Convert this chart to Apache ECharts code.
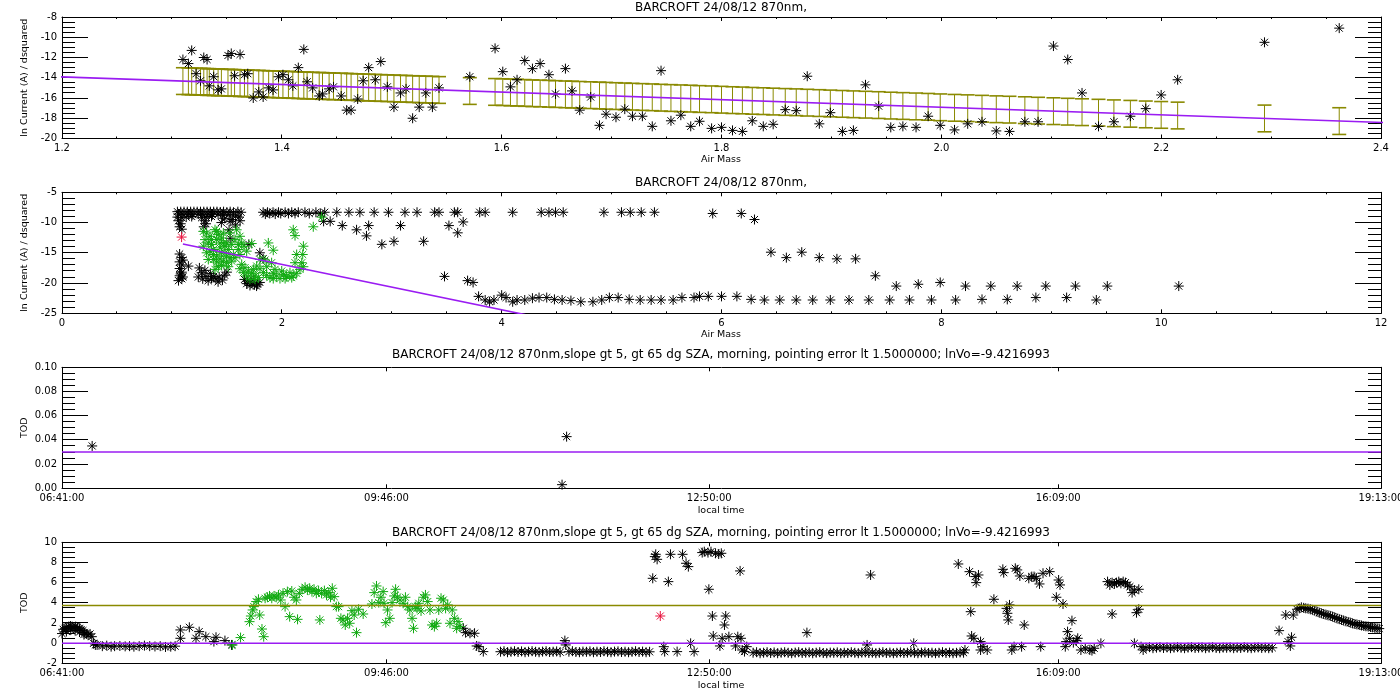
<!DOCTYPE html>
<html><head><meta charset="utf-8">
<script src="https://cdn.jsdelivr.net/npm/echarts@6/dist/echarts.min.js"></script>
<style>html,body{margin:0;padding:0;background:#fff}#c{width:1400px;height:700px}</style>
</head><body><div id="c"></div>
<script>
// ---------------- DATA ----------------
const title12 = 'BARCROFT 24/08/12 870nm,';
const title34 = 'BARCROFT 24/08/12 870nm,slope gt 5, gt 65 dg SZA, morning, pointing error lt 1.5000000; lnVo=-9.4216993';
const timeTicks = [401, 586, 770, 969, 1153];   // minutes of day: 06:41, 09:46, 12:50, 16:09, 19:13

// Panel 1: air mass vs ln current
const p1X = [1.310,1.315,1.318,1.322,1.326,1.329,1.332,1.334,1.338,1.342,1.345,1.351,1.354,1.357,1.362,1.366,1.369,1.374,1.379,1.383,1.388,1.392,1.397,1.401,1.406,1.410,1.415,1.420,1.423,1.428,1.434,1.437,1.443,1.447,1.454,1.459,1.463,1.469,1.474,1.479,1.485,1.490,1.496,1.502,1.508,1.513,1.519,1.525,1.531,1.537,1.543,
 1.571,
 1.594,1.601,1.608,1.614,1.621,1.628,1.635,1.643,1.649,1.658,1.664,1.671,1.681,1.689,1.695,1.704,1.712,1.719,1.728,1.737,1.745,1.754,1.763,1.772,1.780,
 1.791,1.800,1.810,1.819,1.828,1.838,1.847,1.858,1.868,1.878,1.889,1.899,1.910,1.920,1.931,1.943,1.954,1.965,1.977,1.988,1.999,2.012,2.024,2.037,2.050,2.062,2.076,2.088,2.102,2.115,2.128,2.143,2.157,2.172,2.186,2.200,2.215,
 2.294,2.362];
const p1Y = [-12.2,-12.6,-11.3,-13.6,-14.3,-12.0,-12.2,-14.8,-13.9,-15.2,-15.1,-11.8,-11.6,-13.8,-11.7,-13.7,-13.6,-16.0,-15.4,-15.9,-15.0,-15.2,-13.9,-13.7,-14.2,-14.8,-13.0,-11.2,-14.4,-15.0,-15.8,-15.6,-15.1,-14.9,-15.8,-17.2,-17.2,-16.1,-14.3,-13.0,-14.2,-12.4,-14.9,-16.9,-15.5,-15.1,-18.0,-16.9,-15.5,-16.9,-15.0,
 -13.9,
 -11.1,-13.4,-14.9,-14.2,-12.3,-13.1,-12.6,-13.7,-15.6,-13.1,-15.3,-17.2,-15.9,-18.7,-17.6,-17.9,-17.1,-17.8,-17.8,-18.8,-13.3,-18.25,-17.7,-18.8,-18.3,
 -19.0,-18.9,-19.2,-19.3,-18.25,-18.8,-18.6,-17.15,-17.25,-13.85,-18.55,-17.45,-19.3,-19.2,-14.7,-16.8,-18.9,-18.8,-18.9,-17.8,-18.7,-19.15,-18.55,-18.35,-19.25,-19.3,-18.35,-18.35,-10.87,-12.2,-15.5,-18.8,-18.35,-17.8,-17.05,-15.7,-14.2,
 -10.5,-9.1];
const p1ErrLow = [-15.65,-15.67,-15.68,-15.70,-15.71,-15.72,-15.74,-15.74,-15.76,-15.77,-15.78,-15.81,-15.82,-15.83,-15.85,-15.86,-15.87,-15.89,-15.91,-15.93,-15.95,-15.96,-15.98,-15.99,-16.01,-16.03,-16.05,-16.07,-16.08,-16.10,-16.12,-16.13,-16.15,-16.17,-16.19,-16.21,-16.23,-16.25,-16.27,-16.29,-16.31,-16.33,-16.35,-16.37,-16.40,-16.41,-16.44,-16.46,-16.48,-16.50,-16.53,
 -16.63,
 -16.72,-16.74,-16.77,-16.79,-16.82,-16.85,-16.87,-16.90,-16.93,-16.96,-16.98,-17.01,-17.04,-17.07,-17.10,-17.13,-17.16,-17.19,-17.22,-17.25,-17.29,-17.32,-17.35,-17.38,-17.42,
 -17.45,-17.49,-17.53,-17.56,-17.60,-17.63,-17.67,-17.71,-17.74,-17.78,-17.82,-17.86,-17.90,-17.94,-17.98,-18.02,-18.07,-18.11,-18.15,-18.19,-18.24,-18.29,-18.33,-18.38,-18.43,-18.47,-18.52,-18.57,-18.62,-18.67,-18.72,-18.77,-18.83,-18.88,-18.94,-18.99,-19.05,
 -19.34,-19.60];
const p1ErrHigh = [-13.01,-13.03,-13.04,-13.06,-13.07,-13.08,-13.10,-13.10,-13.12,-13.13,-13.14,-13.17,-13.18,-13.19,-13.21,-13.22,-13.23,-13.25,-13.27,-13.29,-13.31,-13.32,-13.34,-13.35,-13.37,-13.39,-13.41,-13.43,-13.44,-13.46,-13.48,-13.49,-13.51,-13.53,-13.55,-13.57,-13.59,-13.61,-13.63,-13.65,-13.67,-13.69,-13.71,-13.73,-13.76,-13.77,-13.80,-13.82,-13.84,-13.86,-13.89,
 -13.99,
 -14.08,-14.10,-14.13,-14.15,-14.18,-14.21,-14.23,-14.26,-14.29,-14.32,-14.34,-14.37,-14.40,-14.43,-14.46,-14.49,-14.52,-14.55,-14.58,-14.61,-14.65,-14.68,-14.71,-14.74,-14.78,
 -14.81,-14.85,-14.89,-14.92,-14.96,-14.99,-15.03,-15.07,-15.10,-15.14,-15.18,-15.22,-15.26,-15.30,-15.34,-15.38,-15.43,-15.47,-15.51,-15.55,-15.60,-15.65,-15.69,-15.74,-15.79,-15.83,-15.88,-15.93,-15.98,-16.03,-16.08,-16.13,-16.19,-16.24,-16.30,-16.35,-16.41,
 -16.70,-16.96];
const fitLine = [[1.1,-13.545],[4.3,-25.545]];

// Panel 2: air mass vs ln current, all data
const p2Black = [
 [1.05,-8.2],[1.08,-8.2],[1.11,-8.2],[1.14,-8.2],[1.17,-8.2],[1.20,-8.2],[1.23,-8.2],[1.26,-8.2],[1.29,-8.2],[1.32,-8.2],[1.35,-8.2],[1.38,-8.2],[1.41,-8.2],[1.44,-8.25],[1.47,-8.2],[1.50,-8.3],[1.53,-8.2],[1.56,-8.3],[1.60,-8.2],[1.63,-8.3],
 [1.06,-8.6],[1.10,-8.7],[1.15,-8.6],[1.19,-8.7],[1.24,-8.6],[1.28,-8.7],[1.33,-8.6],[1.37,-8.7],[1.42,-8.6],[1.46,-8.8],[1.52,-8.7],[1.58,-8.9],
 [1.05,-9.1],[1.09,-9.2],[1.13,-9.1],[1.18,-9.0],[1.27,-9.2],[1.31,-9.1],[1.36,-9.0],[1.48,-9.3],[1.55,-9.5],[1.61,-9.1],
 [1.06,-9.7],[1.08,-10.2],[1.07,-10.7],[1.09,-11.1],[1.30,-9.7],[1.31,-10.2],[1.29,-10.7],[1.53,-9.8],[1.58,-10.4],[1.52,-11.2],[1.53,-12.6],[1.45,-10.0],[1.62,-9.7],
 [1.07,-15.2],[1.09,-15.8],[1.10,-16.2],[1.07,-16.5],[1.09,-17.0],[1.07,-17.6],[1.09,-18.2],[1.08,-18.5],[1.07,-18.8],[1.10,-19.0],[1.09,-19.3],[1.06,-19.6],[1.15,-17.2],
 [1.25,-17.5],[1.30,-17.9],[1.27,-18.3],[1.35,-18.4],[1.24,-19.0],[1.31,-18.9],[1.28,-19.3],[1.33,-19.6],[1.36,-19.2],[1.38,-18.9],[1.40,-19.3],[1.42,-19.8],[1.43,-19.0],[1.46,-19.5],[1.48,-18.7],[1.50,-18.2],
 [1.66,-19.4],[1.68,-20.1],[1.69,-19.7],[1.71,-20.4],[1.72,-20.0],[1.74,-19.5],[1.75,-20.3],[1.77,-20.5],[1.78,-20.2],[1.80,-19.9],
 [1.70,-13.6],[1.80,-15.0],[1.83,-16.0],
 [1.83,-8.3],[1.85,-8.6],[1.87,-8.3],[1.89,-8.5],[1.92,-8.3],[1.94,-8.6],[1.97,-8.3],[1.99,-8.5],[2.03,-8.3],[2.06,-8.5],[2.09,-8.3],[2.12,-8.5],[2.15,-8.3],[2.21,-8.3],[2.25,-8.5],[2.31,-8.3],[2.35,-8.5],[2.39,-8.3],[2.50,-8.3],[2.61,-8.3],[2.71,-8.3],[2.84,-8.3],[2.97,-8.3],[3.12,-8.3],[3.23,-8.3],[3.39,-8.3],[3.43,-8.3],[3.57,-8.3],[3.60,-8.3],[3.80,-8.3],[3.85,-8.3],[4.10,-8.3],[4.36,-8.3],[4.43,-8.3],[4.49,-8.3],[4.56,-8.3],[4.93,-8.3],[5.09,-8.3],[5.17,-8.3],[5.27,-8.3],[5.39,-8.3],[5.92,-8.5],[6.18,-8.5],[6.30,-9.5],
 [2.38,-9.8],[2.44,-9.8],[2.55,-10.5],[2.68,-11.2],[2.77,-12.2],[2.79,-10.5],[2.91,-13.6],[3.02,-13.1],[3.08,-10.5],[3.29,-13.1],[3.48,-18.9],[3.52,-10.5],[3.60,-11.7],[3.65,-9.9],[3.69,-19.6],[3.74,-19.9],
 [3.79,-22.2],[3.85,-22.8],[3.89,-23.1],[3.93,-22.8],[4.00,-22.0],[4.04,-22.4],[4.10,-23.1],[4.14,-22.8],[4.21,-22.8],[4.28,-22.5],[4.34,-22.4],[4.41,-22.4],[4.48,-22.7],[4.55,-22.8],[4.63,-22.9],[4.72,-23.1],[4.83,-23.1],[4.91,-22.8],[4.98,-22.4],[5.06,-22.4],[5.16,-22.7],[5.26,-22.8],[5.36,-22.8],[5.45,-22.8],[5.56,-22.8],[5.64,-22.4],[5.75,-22.4],[5.80,-22.2],[5.88,-22.2],[6.00,-22.2],[6.14,-22.2],[6.27,-22.7],[6.39,-22.8],[6.53,-22.8],[6.68,-22.8],[6.83,-22.8],[6.99,-22.8],[7.16,-22.8],[7.34,-22.8],[7.53,-22.8],[7.71,-22.8],[7.91,-22.8],[8.13,-22.8],[8.37,-22.7],[8.60,-22.7],[8.86,-22.4],[9.14,-22.4],[9.41,-22.8],
 [6.45,-14.9],[6.59,-15.8],[6.73,-14.9],[6.89,-15.8],[7.05,-16.0],[7.22,-16.0],[7.40,-18.8],[7.59,-20.5],[7.79,-20.2],[7.99,-19.9],[8.22,-20.5],[8.45,-20.5],[8.69,-20.5],[8.95,-20.5],[9.22,-20.5],[9.51,-20.5],[10.16,-20.5]
];
const p2Green = [
 [1.286,-11.46],[1.316,-11.73],[1.346,-12.27],[1.301,-12.82],[1.331,-13.37],[1.361,-13.64],[1.392,-11.18],[1.422,-12.0],[1.407,-12.82],[1.452,-12.55],[1.468,-13.37],[1.483,-13.91],[1.437,-14.19],[1.377,-14.46],[1.346,-14.73],[1.316,-15.0],[1.377,-15.28],[1.407,-15.55],[1.437,-15.99],[1.468,-16.37],[1.498,-16.64],[1.513,-17.3],[1.452,-17.08],[1.407,-16.53],[1.483,-15.0],[1.513,-14.46],[1.544,-13.64],[1.574,-12.82],[1.589,-11.2],[1.619,-12.27],[1.635,-13.37],[1.656,-13.91],[1.604,-14.46],[1.559,-15.28],[1.528,-15.82],[1.498,-15.55],[1.544,-16.37],[1.574,-15.82],[1.619,-15.28],[1.68,-14.73],[1.726,-13.47],[1.392,-17.74],[1.422,-17.3],[1.286,-13.91],[1.331,-16.1],
 [1.361,-12.82],[1.437,-13.37],[1.498,-13.37],[1.528,-11.73],[1.468,-11.73],[1.407,-11.46],[1.377,-16.1],[1.452,-15.0],[1.604,-13.64],
 [1.635,-16.91],[1.665,-17.46],[1.695,-18.01],[1.726,-18.39],[1.756,-18.83],[1.786,-19.1],[1.68,-18.83],[1.71,-19.38],[1.741,-17.74],[1.771,-17.19],[1.801,-17.63],[1.832,-18.28],[1.862,-18.72],[1.892,-19.1],[1.922,-18.39],[1.953,-18.83],[1.983,-19.26],[2.014,-18.56],[2.044,-18.94],[2.074,-18.28],[2.104,-18.83],[2.135,-18.39],[2.165,-17.74],[2.196,-17.3],[2.12,-16.64],[1.862,-17.3],[1.847,-16.2],[1.877,-13.37],[1.922,-14.57],[2.104,-11.2],[2.12,-12.16],[2.135,-15.28],[2.19,-15.28],[2.196,-13.91],[2.286,-10.7],[2.362,-9.1],[2.181,-16.64],[1.801,-16.1],[1.907,-16.64],[1.938,-17.74],[1.999,-18.01],
 [1.65,-18.28],[1.619,-17.63],[1.756,-19.38],[1.922,-19.26],[2.03,-19.26],[2.09,-19.1]
];
const p2Red = [[1.088,-12.4]];

// Panel 3: local time (minutes) vs TOD
const p3Black = [[418.2,0.035],[688.7,0.0427],[686.1,0.003]];
const p3Ref = 0.03;

// Panel 4: local time (minutes) vs TOD
const p4Black = [
 [400.7,1.24],[401.7,1.37],[402.7,1.47],[403.7,1.57],[404.8,1.64],[405.8,1.70],[406.8,1.64],[407.8,1.57],[408.8,1.64],[409.8,1.57],[410.9,1.47],[411.9,1.31],[412.9,1.24],[413.9,1.04],[414.9,0.91],[415.9,0.81],[417,0.91],[418,0.64],[401,0.95],[403.5,1.15],[406,1.30],[408.5,1.25],[411,1.10],[413.5,0.85],[419,-0.02],[420,-0.18],[421,-0.18],
 [424,-0.3],[426.5,-0.25],[429,-0.35],[431,-0.3],[434,-0.28],[437,-0.32],[439.5,-0.3],[442,-0.35],[445,-0.3],[448,-0.25],[451,-0.3],[454,-0.33],[457,-0.3],[460,-0.38],[463,-0.35],[465.5,-0.3],
 [468.5,0.48],[468.5,1.31],[473.6,1.57],[477.4,0.48],[479.2,1.14],[483,0.64],[487.6,0.15],[488.8,0.58],[493.9,0.25],[497.7,-0.18],
 [629.8,1.47],[631.1,1.04],[633.6,0.98],[636.2,0.98],[637.4,-0.28],[638.7,-0.35],[641.2,-0.84],
 [651,-0.85],[653,-0.8],[655,-0.9],[657,-0.85],[659,-0.8],[661,-0.88],[663,-0.82],[665,-0.9],[667,-0.85],[669,-0.8],[671,-0.86],[673,-0.9],[675,-0.84],[677,-0.8],[679,-0.88],[681,-0.85],[683,-0.82],[685,-0.9],[690,-0.85],[692,-0.8],[694,-0.88],[696,-0.9],[698,-0.84],[700,-0.86],[702,-0.82],[704,-0.9],[706,-0.85],[708,-0.88],[710,-0.8],[712,-0.86],[714,-0.9],[716,-0.84],[718,-0.82],[720,-0.88],[722,-0.85],[724,-0.9],[726,-0.86],[728,-0.8],[730,-0.88],[732,-0.84],[734,-0.9],[736,-0.86],
 [687.7,0.25],[688.2,-0.18],[737.8,6.43],[739,8.58],[739.5,8.81],[740.3,8.31],[744.1,-0.35],[744.6,-0.84],[746.7,6.10],[747.9,8.81],[751.7,-0.84],[754.8,8.81],[756.8,7.92],[758.1,7.59],[759.4,-0.02],[761.4,-0.84],
 [766,8.98],[767.2,9.07],[769.3,8.98],[771,9.07],[773.6,8.91],[775.4,8.84],[776.9,8.91],[769.8,5.34],[771.8,2.69],[772.3,0.71],[776.1,-0.28],[777.4,0.48],[778.7,1.80],[779.4,2.69],[781.2,0.64],[785,-0.28],[786.3,0.64],[787.6,7.16],[788.1,0.48],[788.8,-0.68],[790.1,-0.84],[791.4,-0.35],
 [795,-0.95],[797,-0.9],[799,-1.0],[801,-0.95],[803,-0.9],[805,-0.98],[807,-0.92],[809,-1.0],[811,-0.95],[813,-0.9],[815,-0.96],[817,-1.0],[819,-0.94],[821,-0.9],[823,-0.98],[825,-0.95],[827,-0.92],[829,-1.0],[831,-0.95],[833,-0.9],[835,-0.98],[837,-1.0],[839,-0.94],[841,-0.96],[843,-0.92],[845,-1.0],[847,-0.95],[849,-0.98],[851,-0.9],[853,-0.96],[855,-1.0],[857,-0.94],[859,-0.92],[861,-0.98],[863,-0.95],[865,-1.0],[867,-0.96],[869,-0.9],[871,-0.98],[873,-0.94],[875,-1.0],[877,-0.96],[879,-0.92],[881,-0.98],[883,-0.95],[885,-0.9],[887,-0.96],[889,-1.0],[891,-0.94],[893,-0.92],[895,-0.98],[897,-0.95],[899,-1.0],[901,-0.96],[903,-0.9],[905,-0.98],[907,-0.94],[909,-1.0],[911,-0.96],[913,-0.92],[915,-0.95],
 [825.7,1.04],[860,-0.18],[862,6.76],[886.6,-0.02],[915.8,-0.68],[912,7.85],[918.4,7.09],[921.7,6.60],[922.2,6.0],[923.5,6.76],[919.1,3.12],[919.6,0.71],[920.9,0.48],[924.7,0.15],[924.7,-0.68],[926,-0.35],[928.5,-0.68],[932.3,4.35],[937.4,7.32],[937.9,6.99],[939.5,3.45],[940,2.96],[940.5,2.30],[941.2,3.79],[942.5,-0.68],[943.8,-0.35],[944.5,7.42],[945.6,7.26],[947.1,6.66],[948.1,-0.35],[949.6,1.80],[952.2,6.43],[953.9,6.60],[955.2,6.60],[956.5,6.43],[958.3,5.87],[959,-0.35],[960.3,6.93],[964.1,7.09],[967.9,4.55],[969.2,6.26],[970,5.77],[971.7,3.88],[973,-0.35],[973.5,0.15],[974.3,1.14],[975.5,0.48],[976.8,2.23],[977.6,0.05],[979.3,0.25],[980.1,0.48],[981.9,-0.68],[984.4,-0.51],[987,-0.68],[988.2,-0.74],[989.5,-0.51],[993.3,-0.02],
 [997.1,6.10],[998.4,5.77],[999.7,6.0],[1001,5.87],[1002.2,6.0],[1003.5,6.10],[1004.7,5.93],[1006,6.10],[1007.3,6.0],[1008.5,5.77],[1009.8,5.60],[1011.1,5.01],[1012.4,5.27],[1014.9,5.34],[999.7,2.89],[1012.4,-0.02],[1013.6,3.02],[1014.9,3.36],[1016.2,-0.35],[1017.4,-0.68],
 [1019,-0.45],[1021,-0.4],[1023,-0.5],[1025,-0.45],[1027,-0.4],[1029,-0.48],[1031,-0.42],[1033,-0.5],[1035,-0.45],[1037,-0.4],[1039,-0.46],[1041,-0.5],[1043,-0.44],[1045,-0.4],[1047,-0.48],[1049,-0.45],[1051,-0.42],[1053,-0.5],[1055,-0.45],[1057,-0.4],[1059,-0.48],[1061,-0.5],[1063,-0.44],[1065,-0.46],[1067,-0.42],[1069,-0.5],[1071,-0.45],[1073,-0.48],[1075,-0.4],[1077,-0.46],[1079,-0.5],[1081,-0.44],[1083,-0.42],[1085,-0.48],[1087,-0.45],[1089,-0.5],[1091,-0.46],
 [1094.9,1.24],[1098.7,2.79],[1100,0.15],[1101.3,-0.28],[1102,0.58],[1103,2.79],
 [1105.1,3.36],[1106.4,3.45],[1107.6,3.55],[1108.9,3.5],[1110.1,3.45],[1111.4,3.42],[1112.7,3.36],[1114,3.3],[1115.2,3.22],[1116.5,3.12],[1117.8,3.02],[1119,2.96],[1120.3,2.89],[1121.6,2.82],[1122.8,2.76],[1124.1,2.7],[1125.4,2.63],[1126.6,2.55],[1127.9,2.46],[1129.2,2.38],[1130.5,2.30],[1131.7,2.24],[1133,2.17],[1134.3,2.1],[1135.5,2.03],[1136.8,1.96],[1138.1,1.90],[1139.3,1.85],[1140.6,1.80],[1141.9,1.75],[1143.2,1.70],[1144.4,1.67],[1145.7,1.64],[1147,1.6],[1148.2,1.57],[1149.5,1.52],[1150.8,1.47],[1152,1.44]
];
const p4Green = [
 [498.2,-0.18],[502.8,0.55],[507.9,2.13],[508.7,2.69],[509.7,3.29],[510.4,3.62],[511.7,4.12],[513,4.35],[513.7,2.79],[515,1.40],[516,0.64],[516.8,4.45],[518.1,4.55],[519.3,4.68],[520.6,4.45],[521.9,4.68],[523.1,4.55],[524.4,4.78],[525.7,4.28],[527,4.94],[528.2,3.62],[529.5,5.11],[530.8,2.63],[532,5.17],[533.3,4.55],[534.6,4.28],[535.3,2.36],[536.3,4.94],[537.9,5.34],[539.6,5.54],[540.9,5.27],[542.2,5.44],[543.5,5.11],[544.7,5.34],[546,4.94],[547.3,5.21],[548.0,2.30],[549,4.94],[550.6,5.21],[551.8,4.78],[553.1,5.01],[554.1,4.55],[555.1,5.44],[556.2,4.61],[557.4,3.62],[558.7,3.62],[560,2.46],[561.2,2.30],[562.5,1.80],[563.8,2.46],[565,1.97],[566.3,3.22],[567.6,2.79],[568.9,1.04],[570.1,3.36],[572.7,2.89],
 [577.7,3.88],[579,5.01],[580.3,5.67],[581.6,4.02],[582.8,4.55],[584.1,5.11],[584.6,3.95],[585.6,2.03],[586.6,3.29],[587.9,2.46],[589.2,4.02],[590.4,4.68],[591.2,5.34],[592.2,4.55],[593.7,4.28],[595.5,3.95],[596.8,4.55],[598.1,3.62],[599.3,3.29],[600.6,2.46],[601.4,1.47],[602.4,3.62],[603.4,3.45],[604.4,3.95],[605.7,3.19],[607,4.55],[608.2,4.78],[609.5,4.12],[610.8,3.29],[612,1.80],[613.3,1.64],[614.6,1.97],[615.8,3.29],[617.1,4.45],[618.4,4.28],[619.7,3.45],[620.9,3.79],[622.2,1.97],[623.5,3.29],[624.7,2.46],[626,1.47],[626.8,2.13],[627.8,1.64]
];
const p4Red = [[742.1,2.69]];
const p4Olive = 3.72;
const p4Zero = 0;

// ---------------- STYLE / LAYOUT ----------------
const PURPLE = '#9a1cf2', OLIVE = '#8a8a00', GREEN = '#11aa11', RED = '#e8103c';
const FONT = '"DejaVu Sans", sans-serif';
const AST = 'path://M0,-10L0,10M-10,0L10,0M-7.07,-7.07L7.07,7.07M-7.07,7.07L7.07,-7.07';
const grids = [
  {left:62, top:17, width:1319, height:121.5},
  {left:62, top:192.3, width:1319, height:121},
  {left:62, top:367.3, width:1319, height:121},
  {left:62, top:542.3, width:1319, height:121}
].map(g => Object.assign(g, {containLabel:false, outerBoundsMode:'none'}));

const pad = n => (n < 10 ? '0' : '') + n;
const fmtTime = v => { const m = Math.round(v); return timeTicks.indexOf(m) >= 0 ? pad(Math.floor(m/60)) + ':' + pad(m % 60) + ':00' : ''; };

function mkX(g, pos, c) {
  return {type:'value', gridIndex:g, position:pos, min:c.min, max:c.max, interval:c.interval,
    axisLine:{show:true, onZero:false, lineStyle:{color:'#000', width:1}},
    axisTick:{show:false}, minorTick:{show:false},
    axisLabel:{show:pos==='bottom', margin:5, color:'#000', fontFamily:FONT, fontSize:10, formatter:c.fmt, showMinLabel:true, showMaxLabel:true},
    splitLine:{show:false}, minorSplitLine:{show:false}};
}
function mkY(g, pos, c) {
  return {type:'value', gridIndex:g, position:pos, min:c.min, max:c.max, interval:c.interval,
    axisLine:{show:true, onZero:false, lineStyle:{color:'#000', width:1}},
    axisTick:{show:false}, minorTick:{show:false},
    axisLabel:{show:pos==='left', margin:5, color:'#000', fontFamily:FONT, fontSize:10, formatter:c.fmt, showMinLabel:true, showMaxLabel:true},
    splitLine:{show:false}, minorSplitLine:{show:false}};
}
const xc = [
  {min:1.2, max:2.4, interval:0.2, minorStep:0.05, per:4, fmt:v => v.toFixed(1)},
  {min:0, max:12, interval:2, minorStep:0.5, per:4, fmt:v => String(Math.round(v))},
  {min:401, max:1153, interval:1, time:true, fmt:fmtTime},
  {min:401, max:1153, interval:1, time:true, fmt:fmtTime}
];
const yc = [
  {min:-20, max:-8, interval:2, minorStep:0.5, per:4, fmt:v => String(Math.round(v))},
  {min:-25, max:-5, interval:5, minorStep:1, per:5, fmt:v => String(Math.round(v))},
  {min:0, max:0.1, interval:0.02, minorStep:0.005, per:4, fmt:v => v.toFixed(2)},
  {min:-2, max:10, interval:2, minorStep:0.5, per:4, fmt:v => String(Math.round(v))}
];
const xAxis = [], yAxis = [];
for (let g = 0; g < 4; g++) {
  xAxis.push(mkX(g, 'bottom', xc[g]), mkX(g, 'top', xc[g]));
  yAxis.push(mkY(g, 'left', yc[g]), mkY(g, 'right', yc[g]));
}

// IDL-style inward tick marks on all four sides, placed through the axes' own scales
function tickList(c) {
  const out = [];
  const n = Math.round((c.max - c.min) / c.minorStep);
  for (let i = 0; i <= n; i++) out.push([c.min + i * c.minorStep, i % c.per === 0 ? 1 : 0]);
  return out;
}
function tickSeries(g) {
  const X = xc[g], Y = yc[g];
  const data = [];
  tickList(Y).forEach(t => data.push([t[0], t[1], 1]));
  const xt = X.time ? timeTicks.map(v => [v, 1]) : tickList(X);
  xt.forEach(t => data.push([t[0], t[1], 0]));
  return {type:'custom', xAxisIndex:2*g, yAxisIndex:2*g, data, silent:true, z:1, clip:false,
    renderItem(params, api) {
      const v = api.value(0), major = api.value(1), kind = api.value(2);
      const st = {stroke:'#000', lineWidth:1};
      if (kind === 1) {
        const L = api.coord([X.min, v]), R = api.coord([X.max, v]);
        const len = major ? 26 : 13;
        const y = Math.round(L[1] - 0.5) + 0.5;
        return {type:'group', children:[
          {type:'line', shape:{x1:L[0], y1:y, x2:L[0] + len, y2:y}, style:st},
          {type:'line', shape:{x1:R[0], y1:y, x2:R[0] - len, y2:y}, style:st}]};
      }
      const B = api.coord([v, Y.min]), T = api.coord([v, Y.max]);
      const len = major ? 4 : 2;
      const x = Math.round(B[0] - 0.5) + 0.5;
      return {type:'group', children:[
        {type:'line', shape:{x1:x, y1:B[1], x2:x, y2:B[1] - len}, style:st},
        {type:'line', shape:{x1:x, y1:T[1], x2:x, y2:T[1] + len}, style:st}]};
    }};
}

function scat(data, g, color) {
  return {type:'scatter', data, xAxisIndex:2*g, yAxisIndex:2*g, symbol:AST, symbolSize:10, silent:true,
    itemStyle:{color:color, borderColor:color, borderWidth:1, opacity:1}, emphasis:{disabled:true}, z:3};
}
function line(data, g, color, w) {
  return {type:'line', data, xAxisIndex:2*g, yAxisIndex:2*g, symbol:'none', silent:true, clip:true,
    lineStyle:{color:color, width:w}, emphasis:{disabled:true}, z:4};
}
const errData = p1X.map((x, i) => [x, p1ErrLow[i], p1ErrHigh[i]]).filter(d => d[1] !== undefined && d[2] !== undefined);
const errSeries = {
  type:'custom', xAxisIndex:0, yAxisIndex:0, data:errData, silent:true, z:2,
  renderItem(params, api) {
    const x = api.value(0);
    const pl = api.coord([x, api.value(1)]), ph = api.coord([x, api.value(2)]);
    const w = 7;
    const st = {stroke:OLIVE, lineWidth:1};
    const sc = {stroke:OLIVE, lineWidth:1.6};
    return {type:'group', children:[
      {type:'line', shape:{x1:pl[0], y1:pl[1], x2:ph[0], y2:ph[1]}, style:st},
      {type:'line', shape:{x1:pl[0]-w, y1:pl[1], x2:pl[0]+w, y2:pl[1]}, style:sc},
      {type:'line', shape:{x1:ph[0]-w, y1:ph[1], x2:ph[0]+w, y2:ph[1]}, style:sc}
    ]};
  }
};

const series = [
  tickSeries(0), tickSeries(1), tickSeries(2), tickSeries(3),
  errSeries,
  scat(p1X.map((x, i) => [x, p1Y[i]]), 0, '#000'),
  line(fitLine, 0, PURPLE, 1.6),
  scat(p2Black, 1, '#000'),
  scat(p2Green, 1, GREEN),
  scat(p2Red, 1, RED),
  line(fitLine, 1, PURPLE, 1.6),
  line([[401, p3Ref], [1153, p3Ref]], 2, PURPLE, 1.5),
  scat(p3Black, 2, '#000'),
  line([[401, p4Olive], [1153, p4Olive]], 3, OLIVE, 1.5),
  line([[401, p4Zero], [1153, p4Zero]], 3, PURPLE, 1.5),
  scat(p4Black, 3, '#000'),
  scat(p4Green, 3, GREEN),
  scat(p4Red, 3, RED)
];

function txt(t, x, y, size, rot) {
  return {type:'text', x, y, rotation:rot||0, silent:true,
    style:{text:t, font:size + 'px ' + FONT, fill:'#000', align:'center', verticalAlign:'middle', textAlign:'center', textVerticalAlign:'middle'}};
}
const graphic = [
  txt(title12, 721, 7.5, 12),
  txt(title12, 721, 183, 12),
  txt(title34, 721, 355, 12),
  txt(title34, 721, 533, 12),
  txt('Air Mass', 721, 160, 9.5),
  txt('Air Mass', 721, 335, 9.5),
  txt('local time', 721, 510.5, 9.5),
  txt('local time', 721, 686, 9.5),
  txt('ln Current (A) / dsquared', 25, 77.7, 9.5, Math.PI/2),
  txt('ln Current (A) / dsquared', 25, 252.8, 9.5, Math.PI/2),
  txt('TOD', 25, 427.8, 9.5, Math.PI/2),
  txt('TOD', 25, 602.8, 9.5, Math.PI/2)
];

const chart = echarts.init(document.getElementById('c'), null, {renderer:'canvas'});
chart.setOption({backgroundColor:'#fff', animation:false, grid:grids, xAxis, yAxis, series, graphic});
</script></body></html>
